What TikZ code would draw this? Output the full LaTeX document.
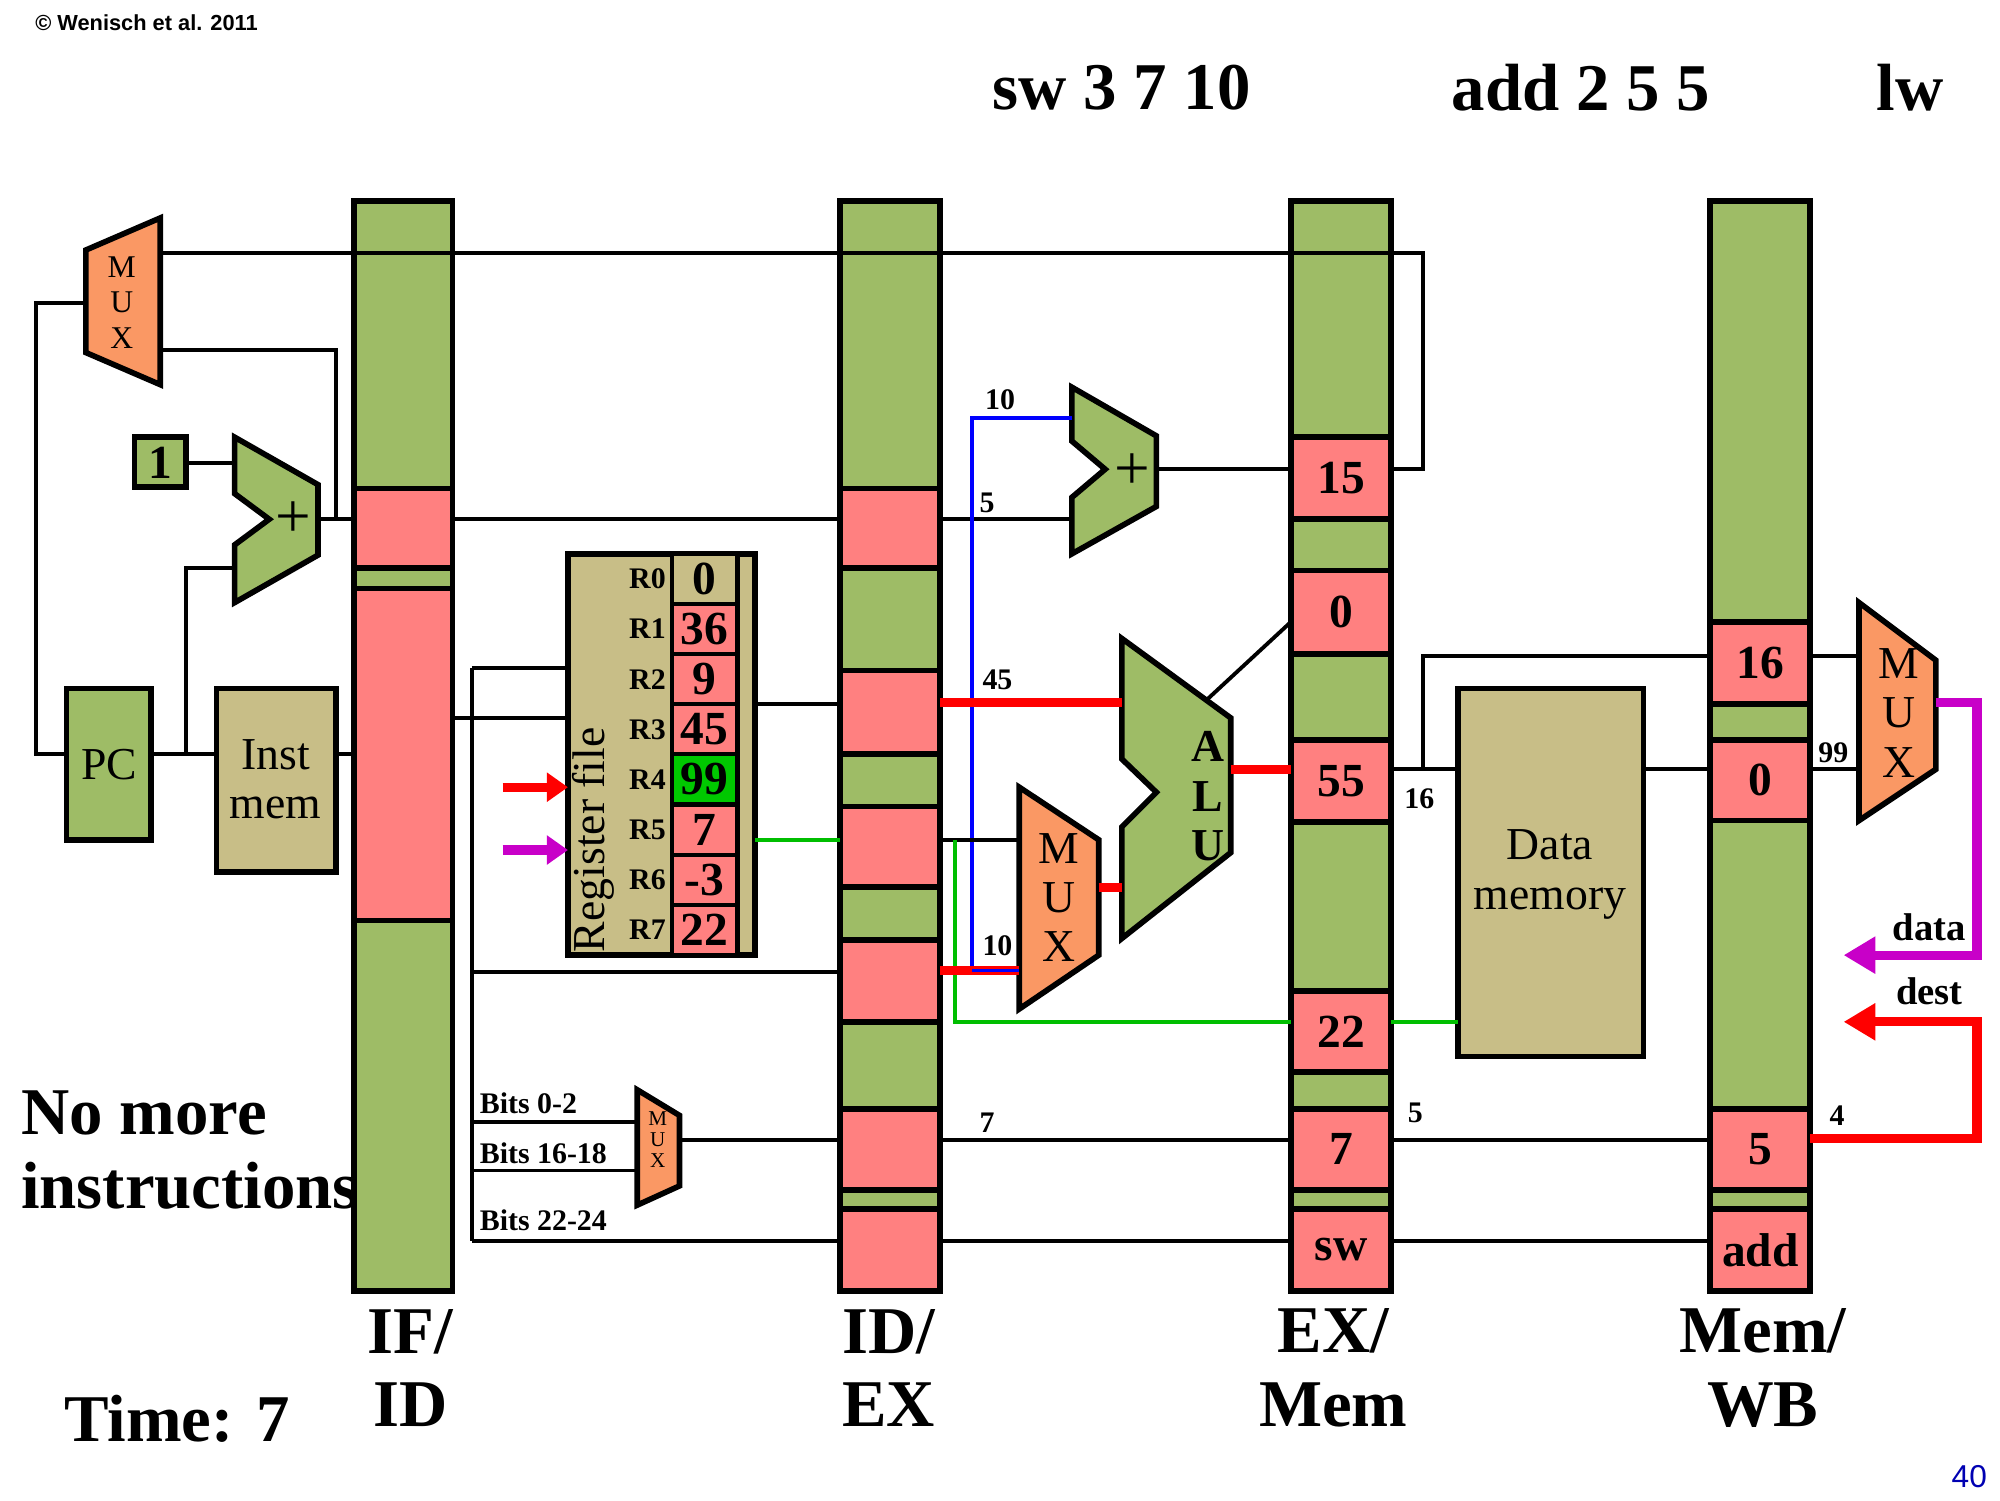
\documentclass[tikz,border=0pt]{standalone}
\usepackage{fontspec}
\setmainfont{Liberation Serif}
\setsansfont{Liberation Sans}
\usetikzlibrary{arrows.meta}
\definecolor{latch}{RGB}{158,188,102}
\definecolor{cell}{RGB}{255,128,128}
\definecolor{tan}{RGB}{200,190,135}
\definecolor{mux}{RGB}{250,152,100}
\definecolor{hot}{RGB}{0,200,0}
\definecolor{wire}{RGB}{0,190,0}
\definecolor{purp}{RGB}{200,0,200}
\tikzstyle{box} = [draw, line width=1.6pt]
\tikzstyle{wire} = [line width=1.1pt]
\tikzstyle{fat} = [line width=2.6pt]
\tikzstyle{big} = [font=\fontsize{19}{21}\selectfont\bfseries, align=center]
\tikzstyle{val} = [font=\fontsize{13.5}{15}\selectfont\bfseries]
\tikzstyle{lab} = [font=\fontsize{8.5}{10}\selectfont\bfseries, inner sep=1pt]
% cell: name, x1, y1, x2, y2, colour, text
\newcommand{\latchcell}[7]{\draw[box, fill=#6] (#2,#3) rectangle (#4,#5);
  \node[val] (#1) at ({(#2+#4)/2},{(#3+#5)/2}) {#7};}
\begin{document}
\begin{tikzpicture}[x=0.01282cm, y=-0.01282cm]
\useasboundingbox (0,0) rectangle (1560,1170);

% headings
\node[font=\sffamily\bfseries\fontsize{6.2}{7}\selectfont, anchor=west, inner sep=0pt] (copy) at (27,18) {© Wenisch et al. 2011};
\node[big] (i1) at (875,68) {sw 3 7 10};
\node[big] (i2) at (1233,68) {add 2 5 5};
\node[big] (i3) at (1490,68) {lw};
\node[big, anchor=west, align=left, inner sep=0pt] (none) at (16,897) {No more\\instructions};
\node[big] (time) at (138,1107) {Time: 7};
\node[font=\sffamily\fontsize{9}{10}\selectfont, text=blue!70!black] (pg) at (1536,1152) {40};

% pipeline latches
\draw[box, fill=latch] (276,157) rectangle (353,1007);
\draw[box, fill=latch] (655,157) rectangle (733,1007);
\draw[box, fill=latch] (1007,157) rectangle (1085,1007);
\draw[box, fill=latch] (1334,157) rectangle (1412,1007);
\node[big] (l1) at (320,1067) {IF/\\ID};
\node[big] (l2) at (693,1067) {ID/\\EX};
\node[big] (l3) at (1040,1067) {EX/\\Mem};
\node[big] (l4) at (1375,1067) {Mem/\\WB};

\latchcell{a1}{276}{381}{353}{443}{cell}{}
\latchcell{a2}{276}{459}{353}{718}{cell}{}
\latchcell{b1}{655}{381}{733}{443}{cell}{}
\latchcell{b2}{655}{523}{733}{588}{cell}{}
\latchcell{b3}{655}{629}{733}{692}{cell}{}
\latchcell{b4}{655}{733}{733}{797}{cell}{}
\latchcell{b5}{655}{865}{733}{928}{cell}{}
\latchcell{b6}{655}{943}{733}{1007}{cell}{}
\latchcell{c1}{1007}{341}{1085}{405}{cell}{15}
\latchcell{c2}{1007}{445}{1085}{510}{cell}{0}
\latchcell{c3}{1007}{577}{1085}{641}{cell}{55}
\latchcell{c4}{1007}{773}{1085}{836}{cell}{22}
\latchcell{c5}{1007}{865}{1085}{928}{cell}{7}
\latchcell{c6}{1007}{943}{1085}{1007}{cell}{sw}
\latchcell{d1}{1334}{485}{1412}{549}{cell}{16}
\latchcell{d2}{1334}{577}{1412}{640}{cell}{0}
\latchcell{d3}{1334}{865}{1412}{928}{cell}{5}
\latchcell{d4}{1334}{943}{1412}{1007}{cell}{add}

% fetch stage
\draw[box, fill=mux] (67,195) -- (125,170) -- (125,300) -- (67,275) -- cycle;
\node[font=\fontsize{9}{10}\selectfont, align=center, inner sep=0pt] (mux1) at (95,236) {M\\U\\X};
\draw[box, fill=latch] (52,537) rectangle (118,655);
\node[font=\fontsize{13}{14}\selectfont] (pc) at (85,596) {PC};
\draw[box, fill=tan] (169,537) rectangle (262,680);
\node[font=\fontsize{13}{14}\selectfont, align=center] (imem) at (215,608) {Inst\\mem};
\draw[box, fill=latch] (105,341) rectangle (145,380);
\node[val] (one) at (125,361) {1};
\draw[box, fill=latch] (183,341) -- (248,378) -- (248,433) -- (183,470) -- (183,425) -- (210,405) -- (183,385) -- cycle;
\node[font=\fontsize{18}{18}\selectfont] (add1) at (229,405) {+};

\draw[wire] (125,197) -- (1110,197) -- (1110,366) -- (1085,366);
\draw[wire] (125,273) -- (262,273) -- (262,405);
\draw[wire] (67,236) -- (28,236) -- (28,588) -- (52,588);
\draw[wire] (118,588) -- (169,588);
\draw[wire] (145,588) -- (145,443) -- (183,443);
\draw[wire] (145,361) -- (183,361);
\draw[wire] (248,405) -- (276,405);
\draw[wire] (262,588) -- (276,588);

% decode stage
\draw[wire] (353,405) -- (655,405);
\draw[wire] (368,521) -- (368,968);
\draw[wire] (368,521) -- (443,521);
\draw[wire] (353,560) -- (443,560);
\draw[wire] (368,758) -- (655,758);
\draw[wire] (368,875) -- (497,875);
\draw[wire] (368,913) -- (497,913);
\draw[wire] (368,968) -- (655,968);
\node[lab, anchor=south west] (bt1) at (371,872) {Bits 0-2};
\node[lab, anchor=south west] (bt2) at (371,911) {Bits 16-18};
\node[lab, anchor=south west] (bt3) at (371,963) {Bits 22-24};
\draw[box, fill=mux] (497,850) -- (530,870) -- (530,925) -- (497,940) -- cycle;
\node[font=\fontsize{6}{6}\selectfont, align=center, inner sep=0pt] (mux0) at (513,889) {M\\U\\X};
\draw[wire] (530,889) -- (655,889);

% register file
\draw[box, fill=tan] (443,432) rectangle (589,745);
\draw[box] (575,432) -- (575,745);
\node[rotate=90, font=\fontsize{13}{14}\selectfont] (rf) at (463,655) {Register file};
\foreach \r/\v/\c [count=\i from 0] in {R0/0/tan,R1/36/cell,R2/9/cell,R3/45/cell,R4/99/hot,R5/7/cell,R6/-3/cell,R7/22/cell}{
  \draw[box, line width=1.2pt, fill=\c] (524,432+39.1*\i) rectangle (575,471.1+39.1*\i);
  \node[val] (v\i) at (549.5,451.5+39.1*\i) {\v};
  \node[lab] (r\i) at (505,451.5+39.1*\i) {\r};
}
\draw[fat, red, -{Triangle[length=6pt,width=8pt]}] (392,614) -- (443,614);
\draw[fat, purp, -{Triangle[length=6pt,width=8pt]}] (392,663) -- (443,663);
\draw[wire] (589,549) -- (655,549);
\draw[wire, color=wire] (589,655) -- (655,655);

% execute stage
\draw[box, fill=latch] (836,302) -- (902,340) -- (902,395) -- (836,432) -- (836,388) -- (862,366) -- (836,344) -- cycle;
\node[font=\fontsize{18}{18}\selectfont] (add2) at (883,368) {+};
\draw[wire] (733,405) -- (836,405);
\node[lab] (n5) at (770,392) {5};
\draw[wire, blue] (836,326) -- (758,326) -- (758,757);
\node[lab] (n10a) at (780,312) {10};
\draw[wire] (902,366) -- (1007,366);

\draw[box, fill=mux] (795,614) -- (857,655) -- (857,745) -- (795,787) -- cycle;
\node[font=\fontsize{13}{14}\selectfont, align=center, inner sep=0pt] (mux2) at (826,700) {M\\U\\X};
\draw[box, fill=latch] (875,498) -- (960,560) -- (960,665) -- (875,732) -- (875,645) -- (902,618) -- (875,592) -- cycle;
\node[font=\fontsize{13}{14}\selectfont\bfseries, align=center, inner sep=0pt] (alu) at (942,621) {A\\L\\U};
\draw[fat, red] (733,548) -- (875,548);
\node[lab] (n45) at (778,530) {45};
\draw[wire] (733,655) -- (795,655);
\draw[wire, color=wire] (745,655) -- (745,797) -- (1007,797);
\draw[fat, red] (733,757) -- (795,757);
\draw[wire, blue] (758,757) -- (795,757);
\node[lab] (n10b) at (778,738) {10};
\draw[fat, red] (857,692) -- (875,692);
\draw[fat, red] (960,600) -- (1007,600);
\draw[wire] (940,547) -- (1007,485);
\draw[wire] (733,889) -- (1007,889);
\node[lab] (n7) at (770,876) {7};
\draw[wire] (733,968) -- (1007,968);

% memory stage
\draw[box, fill=tan] (1137,537) rectangle (1282,824);
\node[font=\fontsize{13}{14}\selectfont, align=center] (dmem) at (1209,682) {Data\\memory};
\draw[wire] (1085,600) -- (1137,600);
\draw[wire] (1110,600) -- (1110,512) -- (1334,512);
\node[lab] (n16) at (1107,623) {16};
\draw[wire] (1282,600) -- (1334,600);
\draw[wire, color=wire] (1085,797) -- (1137,797);
\draw[wire] (1085,889) -- (1334,889);
\node[lab] (n5b) at (1104,868) {5};
\draw[wire] (1085,968) -- (1334,968);

% write back
\draw[box, fill=mux] (1450,470) -- (1510,515) -- (1510,600) -- (1450,640) -- cycle;
\node[font=\fontsize{13}{14}\selectfont, align=center, inner sep=0pt] (mux3) at (1481,556) {M\\U\\X};
\draw[wire] (1412,512) -- (1450,512);
\draw[wire] (1412,600) -- (1450,600);
\node[lab] (n99) at (1430,587) {99};
\draw[fat, purp, -{Triangle[length=9pt,width=10pt]}] (1510,548) -- (1542,548) -- (1542,745) -- (1438,745);
\node[lab, font=\fontsize{11}{12}\selectfont\bfseries] (data) at (1505,723) {data};
\draw[fat, red, -{Triangle[length=9pt,width=10pt]}] (1412,888) -- (1542,888) -- (1542,797) -- (1438,797);
\node[lab, font=\fontsize{11}{12}\selectfont\bfseries] (dest) at (1505,773) {dest};
\node[lab] (n4) at (1433,870) {4};
\end{tikzpicture}
\end{document}
